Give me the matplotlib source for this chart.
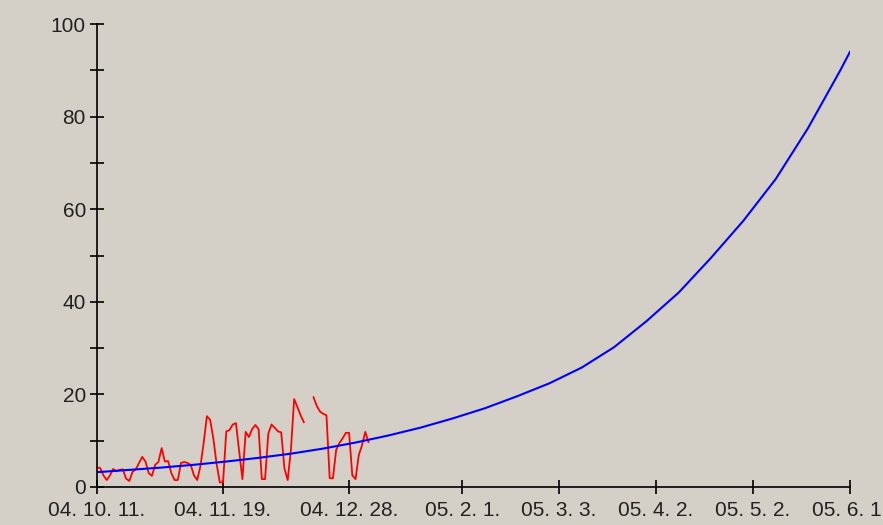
import numpy as np
import matplotlib
matplotlib.use('Agg')
import matplotlib.pyplot as plt

# data
start = np.datetime64('2004-10-11')
tick_dates = ['2004-10-11', '2004-11-19', '2004-12-28', '2005-02-01',
              '2005-03-03', '2005-04-02', '2005-05-02', '2005-06-01']
tick_labels = ['04. 10. 11.', '04. 11. 19.', '04. 12. 28.', '05. 2. 1.',
               '05. 3. 3.', '05. 4. 2.', '05. 5. 2.', '05. 6. 1.']

blue_days = [0, 10, 20, 30, 40, 50, 60, 70, 80, 90, 100, 110, 120, 130,
             140, 150, 160, 170, 180, 190, 200, 210, 220, 230, 233]
blue_vals = [3.2, 3.7, 4.2, 4.8, 5.5, 6.3, 7.2, 8.3, 9.6, 11.1, 12.8, 14.8,
             17.0, 19.6, 22.4, 25.8, 30.2, 35.8, 42.0, 49.5, 57.5, 66.5,
             77.5, 90.0, 94.0]

nan = np.nan
red_vals = [4.2, 4.1, 2.5, 1.5, 2.5, 3.9, 3.4, 3.7, 3.8, 1.8,
            1.3, 3.3, 3.8, 5.2, 6.5, 5.5, 3.0, 2.4, 4.8, 5.4,
            8.4, 5.5, 5.6, 3.0, 1.5, 1.5, 5.2, 5.4, 5.2, 4.8,
            2.5, 1.5, 4.5, 9.5, 15.3, 14.5, 10.5, 5.0, 1.0, 1.0,
            12.0, 12.3, 13.5, 13.8, 7.6, 1.7, 11.9, 10.8, 12.5, 13.4,
            12.5, 1.7, 1.7, 11.5, 13.5, 12.8, 12.0, 11.8, 4.0, 1.5,
            8.0, 19.0, 17.3, 15.5, 14.0, nan, nan, 19.4, 17.5, 16.3,
            15.8, 15.5, 1.9, 1.9, 8.0, 9.5, 10.5, 11.7, 11.7, 2.5,
            1.7, 6.9, 9.0, 11.9, 9.7]

bg = '#d4d0c8'
plt.rcParams['font.family'] = ['Liberation Sans', 'DejaVu Sans']

fig = plt.figure(figsize=(8.83, 5.25), dpi=100, facecolor=bg)
ax = fig.add_axes([97 / 883, 38 / 525, 753 / 883, 463 / 525], facecolor=bg)

blue_x = start + np.array(blue_days, dtype='timedelta64[D]')
red_x = start + np.arange(len(red_vals)).astype('timedelta64[D]')

ax.plot(red_x, red_vals, color='#ff0000', lw=1.3)
ax.plot(blue_x, blue_vals, color='#0000ff', lw=1.5)

ticks = np.array(tick_dates, dtype='datetime64[D]')
ax.set_xlim(ticks[0], ticks[-1])
ax.set_ylim(0, 100)
ax.set_xticks(ticks)
ax.set_xticklabels(tick_labels)
ax.set_yticks(range(0, 101, 20))
ax.set_yticks(range(10, 100, 20), minor=True)

for s in ['top', 'right']:
    ax.spines[s].set_visible(False)
for s in ['left', 'bottom']:
    ax.spines[s].set_linewidth(1.2)
    ax.spines[s].set_color('black')

ax.tick_params(which='both', direction='inout', length=10, width=1.2,
               color='black', labelsize=15, labelcolor='#222222')
ax.tick_params(axis='y', pad=3)
ax.tick_params(axis='x', pad=5)

for t in ax.get_xticklabels() + ax.get_yticklabels():
    t.set_clip_on(False)

fig.savefig('out.png', dpi=100, facecolor=bg)
